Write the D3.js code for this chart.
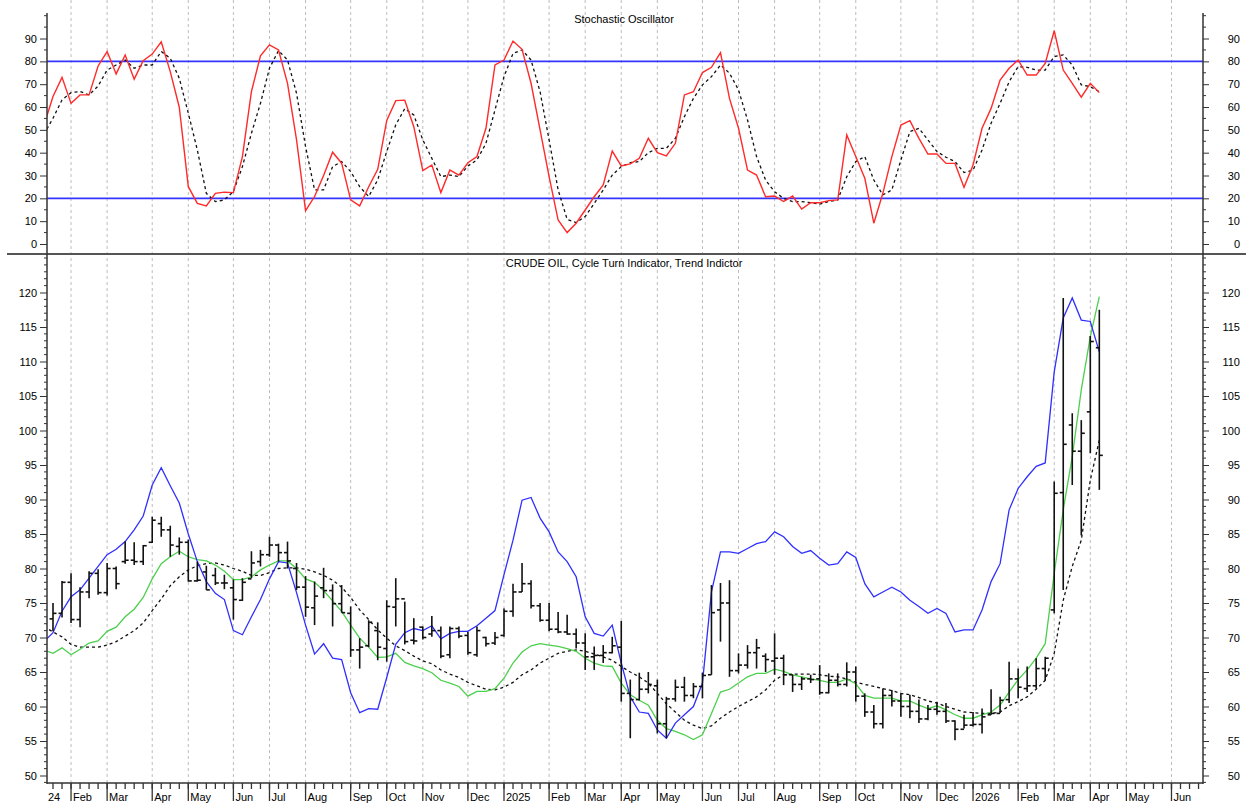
<!DOCTYPE html>
<html>
<head>
<meta charset="utf-8">
<script src="https://cdn.jsdelivr.net/npm/d3@7"></script>
<style>
body{margin:0;background:#fff}
text{font-family:"Liberation Sans",Arial,sans-serif;font-size:11px;fill:#000}
</style>
</head>
<body>
<svg id="chart" width="1246" height="804"></svg>
<script>
// weekly bars, first entry (12 Jan 2024) only carries the line values
let firstWeek = Date.UTC(2024,0,12)
let weekCount = 118

let open = [null,72.7,73.5,78.0,72.6,76.6,79.3,76.5,80.0,81.0,81.2,
81.0,83.8,86.5,85.6,83.2,83.8,78.2,79.5,79.0,77.9,
77.2,75.4,78.5,81.0,82.0,83.4,82.3,80.0,77.3,74.3,
77.2,76.8,74.9,73.5,68.2,68.8,71.0,68.4,74.4,75.6,
69.6,71.5,70.5,71.0,67.5,71.3,70.3,67.5,70.0,69.2,
70.3,73.8,76.6,77.8,74.6,72.5,71.2,70.8,70.5,69.2,
67.2,67.4,67.8,68.6,61.9,61.0,62.5,63.0,57.5,61.1,
62.8,61.6,62.9,64.6,74.0,75.0,65.2,66.0,67.8,67.3,
66.6,67.0,64.6,63.2,64.0,64.0,62.0,63.8,63.2,65.0,
61.5,59.2,57.5,61.6,60.8,60.0,59.3,58.2,59.6,59.3,
57.9,56.7,57.3,57.4,58.8,59.0,61.0,64.0,62.6,63.0,
65.5,74.0,91.0,100.8,97.0,102.7,112.0]

let high = [null,75.0,78.2,79.3,77.3,79.6,79.9,80.8,80.3,83.9,83.8,
83.4,87.5,87.5,86.2,84.5,84.2,81.0,80.4,80.1,79.1,
78.4,78.6,82.5,82.7,84.6,83.6,83.9,80.8,78.9,78.1,
80.1,77.7,77.6,74.5,69.9,72.5,72.2,75.4,78.6,75.2,
72.8,71.6,73.1,71.6,71.6,71.6,70.8,71.6,70.1,70.8,
74.2,77.8,80.8,78.3,75.0,75.0,73.7,73.3,71.3,70.6,
68.7,68.9,70.1,72.4,63.9,64.9,65.0,63.9,61.4,63.9,
64.3,63.4,64.9,77.6,77.9,78.3,67.7,68.9,69.8,67.7,
70.6,67.5,64.6,64.3,64.6,66.0,64.8,64.8,66.4,65.8,
61.9,60.2,62.6,62.4,61.9,61.7,61.0,60.2,60.7,60.5,
58.0,58.8,59.2,59.7,62.5,61.4,66.5,65.5,65.8,67.0,
67.2,92.6,119.2,102.5,101.5,113.7,117.5]

let low = [null,70.9,72.9,72.1,71.5,75.7,76.2,76.1,77.0,80.7,80.5,
80.5,83.7,84.6,81.7,82.0,78.1,78.1,76.9,77.6,77.0,
72.6,75.3,78.6,80.3,81.7,81.0,80.0,76.9,73.0,71.8,
75.7,71.6,73.6,67.2,65.5,68.6,66.7,66.5,71.6,69.0,
69.0,69.7,70.1,67.0,67.0,69.9,67.5,67.2,68.7,68.9,
70.1,73.0,76.6,74.2,72.3,70.9,70.6,70.4,68.4,65.3,
65.3,66.3,67.7,60.7,55.4,60.9,61.9,56.1,55.4,60.7,
60.7,61.2,61.2,64.6,69.4,64.3,64.8,65.5,65.5,65.0,
64.6,63.1,62.1,62.4,63.4,61.7,61.9,62.9,62.9,60.7,
58.5,56.8,56.8,60.0,58.5,58.3,57.6,58.0,58.8,57.6,
55.1,56.8,57.1,56.1,58.8,59.1,60.5,61.2,62.1,62.6,
63.8,73.5,76.9,92.1,84.8,96.7,91.4]

let close = [null,73.5,78.0,72.6,76.6,79.3,76.5,80.0,77.8,81.2,81.0,
83.3,87.0,85.6,83.4,83.8,78.2,78.3,76.9,77.9,77.9,
75.5,78.0,80.8,82.0,83.4,82.3,81.1,77.3,74.4,76.0,
76.8,74.9,73.6,68.2,68.6,72.2,68.6,74.5,75.6,69.4,
69.5,70.0,71.0,67.3,71.3,70.2,67.8,71.0,69.1,70.0,
73.8,76.6,77.8,74.6,72.5,71.2,70.8,70.5,69.2,67.2,
67.4,67.8,68.8,61.9,61.0,62.5,63.2,57.5,61.1,62.8,
61.6,62.9,64.5,73.6,75.0,65.2,66.0,67.8,68.5,66.8,
67.0,64.6,63.2,64.0,63.9,62.0,63.8,63.2,65.0,61.5,
59.2,57.5,61.6,60.8,60.0,59.3,58.2,59.6,59.3,57.9,
56.7,57.3,57.4,58.5,59.0,60.9,64.0,62.8,63.0,65.5,
67.0,90.9,98.0,97.0,99.6,112.9,96.4]

// Cycle Turn Indicator (blue)
let cycleTurn = [69.4,70.7,73.8,75.9,76.9,78.6,80.3,82.0,82.8,83.9,85.6,
87.6,92.1,94.6,92.0,89.5,85.0,81.0,78.1,76.4,75.5,
71.0,70.4,73.0,75.5,78.5,81.0,80.8,76.5,71.8,67.6,
69.1,67.0,66.8,62.0,59.1,59.7,59.6,64.2,69.0,70.7,
71.3,71.0,71.7,69.8,70.6,70.9,70.9,71.7,72.8,73.9,
79.1,84.1,89.9,90.3,87.3,85.3,82.4,81.0,78.8,73.0,
70.6,70.2,71.8,66.3,61.4,59.2,59.0,56.6,55.4,57.6,
58.8,60.0,63.4,76.6,82.4,82.4,82.2,82.9,83.6,83.9,
85.3,84.6,83.2,82.2,82.6,81.5,80.5,80.7,82.4,81.6,
77.8,75.9,76.6,77.3,76.6,75.4,74.5,73.5,74.2,73.5,
70.8,71.1,71.1,74.0,78.1,80.7,88.5,91.6,93.3,94.8,
95.3,108.5,116.3,119.2,116.0,115.8,111.4]

// Trend Indicator, fast (green) and slow (dashed)
let trendFast = [68.2,67.7,68.5,67.5,68.3,69.2,69.5,70.9,71.5,73.0,74.1,
75.8,78.5,80.7,81.7,82.5,81.7,81.3,81.1,80.5,79.6,
78.4,78.4,78.8,79.8,80.5,81.1,81.1,80.0,78.5,78.0,
76.8,75.3,73.8,71.8,69.9,68.6,67.1,67.2,67.7,66.4,
65.9,65.5,64.9,63.8,63.4,62.9,61.5,62.2,62.2,62.6,
64.1,66.3,67.9,68.8,69.1,68.9,68.7,68.4,68.0,67.0,
66.3,65.9,65.8,63.4,61.7,60.9,60.2,58.0,56.8,56.4,
55.9,55.2,55.9,59.0,62.1,62.5,63.4,64.3,64.8,64.8,
65.4,65.1,64.6,64.3,64.0,63.8,63.5,63.5,64.0,63.3,
61.6,61.2,61.2,61.2,60.8,60.8,60.2,59.7,60.1,59.5,
58.8,58.3,58.3,58.8,59.2,60.2,62.1,63.9,65.3,67.0,
69.1,79.3,88.5,96.2,105.9,113.6,119.4]

let trendSlow = [71.6,70.8,70.1,69.0,68.6,68.6,68.6,68.9,69.4,70.2,71.0,
72.1,73.9,75.6,77.5,78.8,79.8,80.4,80.7,80.8,80.5,
80.0,79.6,79.0,79.0,79.4,80.0,80.1,80.1,79.9,79.5,
79.0,78.3,77.3,75.8,74.0,72.6,71.1,69.9,68.8,68.1,
67.3,66.6,66.2,65.3,64.7,64.2,63.5,63.0,62.5,62.4,
62.8,63.5,64.6,65.3,66.3,67.0,67.7,68.0,68.2,68.0,
67.6,67.2,66.7,65.8,65.0,64.3,63.4,61.9,60.4,59.2,
58.0,57.3,56.8,57.2,58.3,59.2,60.0,60.7,61.4,62.4,
63.8,64.6,64.7,64.7,64.7,64.6,64.4,64.3,64.0,63.5,
63.2,62.9,62.6,62.3,61.9,61.7,61.3,60.8,60.5,60.0,
59.6,59.2,59.1,59.0,59.0,59.2,60.1,60.7,61.4,62.5,
63.8,67.7,75.4,80.3,84.1,92.8,98.6]

// Stochastic Oscillator
let stochK = [52.0,64.6,73.0,61.6,65.3,65.3,78.0,84.3,74.5,82.8,72.2,
80.3,83.2,88.6,75.5,59.9,25.1,17.8,16.7,22.2,22.7,
22.5,38.3,66.8,82.4,87.2,85.0,70.4,45.6,14.6,20.8,
30.0,40.2,35.4,19.3,16.7,25.1,32.7,54.1,62.8,63.0,
51.4,32.1,34.6,22.5,32.4,30.2,35.6,38.3,50.7,78.4,
80.6,88.9,85.3,70.4,50.0,29.5,10.5,5.0,9.1,14.9,
20.7,25.9,40.7,34.2,35.1,37.5,46.3,40.0,38.6,44.1,
65.3,66.7,75.1,77.4,83.8,63.8,50.7,32.4,30.2,20.7,
21.0,18.6,21.0,15.3,18.1,18.1,19.0,19.3,47.8,38.3,
28.8,9.1,22.2,38.3,52.1,54.0,46.3,39.4,39.4,35.3,
35.3,24.8,34.6,50.7,59.4,71.8,77.0,80.6,74.0,74.0,
79.1,93.4,76.2,70.4,64.3,70.4,66.3]

let stochD = [48.0,55.1,63.1,66.3,66.8,65.3,69.2,76.2,78.4,80.6,77.0,
78.4,78.4,84.3,81.4,72.6,57.3,41.2,22.2,18.6,19.3,
23.0,33.9,48.5,61.6,77.0,84.7,80.6,66.0,42.7,23.7,
23.7,33.9,36.1,31.7,25.1,20.8,28.1,40.5,52.2,59.3,
56.5,45.6,37.5,29.5,30.2,29.5,34.2,36.8,44.1,58.7,
73.3,83.5,85.0,80.6,66.7,45.6,23.7,10.8,9.4,12.0,
17.8,23.7,30.2,33.9,35.6,36.1,40.0,41.9,41.9,46.3,
55.8,63.8,69.7,73.3,78.4,74.8,67.5,54.3,38.3,28.0,
22.9,20.0,18.6,18.6,18.1,17.5,18.6,19.3,29.5,36.1,
38.3,28.0,21.5,23.7,36.8,49.2,50.7,45.6,40.5,38.0,
36.1,31.3,32.4,41.2,52.9,61.6,71.1,77.7,77.4,76.2,
76.2,82.1,82.8,78.4,69.7,68.9,66.7]

let stochLevels = [20,80]
let stochTicks = [0,10,20,30,40,50,60,70,80,90]
let priceTicks = [50,55,60,65,70,75,80,85,90,95,100,105,110,115,120]
let monthNames = ["Jan","Feb","Mar","Apr","May","Jun","Jul","Aug","Sep","Oct","Nov","Dec"]

let svg = d3.select("#chart")
let plotLeft = 47, plotRight = 1203, plotTop = 13, sepY = 254, plotBottom = 783

let weeks = d3.range(weekCount).map(k => d3.utcDay.offset(new Date(firstWeek), 7*k))

let xScale = d3.scaleUtc().domain([weeks[1], weeks[weekCount-1]]).range([53, 53 + 9.02*(weekCount-2)])
let yStoch = d3.scaleLinear().domain([0,100]).range([244, 15.7])
let yPrice = d3.scaleLinear().domain([50,120]).range([775.5, 292.5])

svg.append("rect").attr("width",1246).attr("height",804).attr("fill","#fff")

let defs = svg.append("defs")
defs.append("clipPath").attr("id","clipTop").append("rect")
  .attr("x",plotLeft).attr("y",plotTop).attr("width",plotRight-plotLeft).attr("height",sepY-plotTop)
defs.append("clipPath").attr("id","clipBottom").append("rect")
  .attr("x",plotLeft).attr("y",sepY).attr("width",plotRight-plotLeft).attr("height",plotBottom-sepY)

// month grid lines, at the first weekly bar of each month
let months = d3.utcMonths(new Date(Date.UTC(2024,1,1)), new Date(Date.UTC(2026,6,1)))
let monthWeeks = months.map(m => d3.utcFriday.ceil(m))

svg.append("g").selectAll("line")
  .data(monthWeeks)
  .enter().append("line")
  .attr("x1", d => xScale(d)).attr("x2", d => xScale(d))
  .attr("y1", 0).attr("y2", plotBottom)
  .attr("stroke","#bdbdbd").attr("stroke-dasharray","3,3")

// top panel
svg.append("g").selectAll("line")
  .data(stochLevels)
  .enter().append("line")
  .attr("x1",plotLeft).attr("x2",plotRight)
  .attr("y1", d => yStoch(d)).attr("y2", d => yStoch(d))
  .attr("stroke","#3434ff").attr("stroke-width",1.6)

let topPanel = svg.append("g").attr("clip-path","url(#clipTop)")
let stochLine = d3.line().x((d,i) => xScale(weeks[i])).y(d => yStoch(d))

topPanel.append("path").datum(stochD)
  .attr("d",stochLine).attr("fill","none")
  .attr("stroke","#111").attr("stroke-width",1.3).attr("stroke-dasharray","3,3")
topPanel.append("path").datum(stochK)
  .attr("d",stochLine).attr("fill","none")
  .attr("stroke","#ff2a2a").attr("stroke-width",1.4)

// bottom panel
let bottomPanel = svg.append("g").attr("clip-path","url(#clipBottom)")
let priceLine = d3.line().x((d,i) => xScale(weeks[i])).y(d => yPrice(d))

bottomPanel.append("path").datum(trendSlow)
  .attr("d",priceLine).attr("fill","none")
  .attr("stroke","#111").attr("stroke-width",1.3).attr("stroke-dasharray","3,3")
bottomPanel.append("path").datum(trendFast)
  .attr("d",priceLine).attr("fill","none")
  .attr("stroke","#4ccf4c").attr("stroke-width",1.3)
bottomPanel.append("path").datum(cycleTurn)
  .attr("d",priceLine).attr("fill","none")
  .attr("stroke","#2f2fff").attr("stroke-width",1.3)

let bars = bottomPanel.selectAll(".bar")
  .data(d3.range(weekCount).filter(i => open[i] != null))
  .enter().append("g")
  .attr("class","bar")
  .attr("transform", i => `translate(${xScale(weeks[i])},0)`)
  .attr("stroke","#111").attr("stroke-width",1.6)
bars.append("line").attr("x1",0).attr("x2",0)
  .attr("y1", i => yPrice(high[i])).attr("y2", i => yPrice(low[i]))
bars.append("line").attr("x1",-3.5).attr("x2",0)
  .attr("y1", i => yPrice(open[i])).attr("y2", i => yPrice(open[i]))
bars.append("line").attr("x1",0).attr("x2",3.5)
  .attr("y1", i => yPrice(close[i])).attr("y2", i => yPrice(close[i]))

// frame
svg.append("line").attr("x1",7).attr("x2",1246).attr("y1",sepY).attr("y2",sepY)
  .attr("stroke","#555").attr("stroke-width",1.8)
svg.append("line").attr("x1",plotLeft).attr("x2",plotLeft).attr("y1",plotTop).attr("y2",plotBottom+1)
  .attr("stroke","#333").attr("stroke-width",1.5)
svg.append("line").attr("x1",plotRight).attr("x2",plotRight).attr("y1",plotTop).attr("y2",plotBottom+1)
  .attr("stroke","#333").attr("stroke-width",1.5)
svg.append("line").attr("x1",plotLeft).attr("x2",plotRight).attr("y1",plotBottom).attr("y2",plotBottom)
  .attr("stroke","#333").attr("stroke-width",1.5)

// y axes
function yAxes(scale, majors, minors) {
  let l = svg.append("g").attr("transform",`translate(${plotLeft},0)`)
    .call(d3.axisLeft(scale).tickValues(majors).tickSize(7).tickPadding(3))
  let r = svg.append("g").attr("transform",`translate(${plotRight},0)`)
    .call(d3.axisRight(scale).tickValues(majors).tickSize(6).tickPadding(3))
  r.selectAll("text").attr("text-anchor","end").attr("x",37)
  ;[l,r].forEach(g => {
    g.attr("font-family",null).attr("font-size",null)
    g.select(".domain").remove()
    g.selectAll("line").attr("stroke","#333")
  })
  svg.append("g").selectAll("line").data(minors).enter().append("line")
    .attr("x1",plotLeft-3).attr("x2",plotLeft).attr("y1",d => scale(d)).attr("y2",d => scale(d))
    .attr("stroke","#333")
  svg.append("g").selectAll("line").data(minors).enter().append("line")
    .attr("x1",plotRight).attr("x2",plotRight+3).attr("y1",d => scale(d)).attr("y2",d => scale(d))
    .attr("stroke","#333")
}
yAxes(yStoch, stochTicks, [5,15,25,35,45,55,65,75,85,95,100])
yAxes(yPrice, priceTicks, d3.range(49,126).filter(v => v % 5 != 0 || v > 120))

// x axis: weekly ticks, month ticks longer with label
let weekTicks = d3.utcFriday.range(new Date(Date.UTC(2024,0,19)), new Date(Date.UTC(2026,5,30)))
svg.append("g").selectAll("line").data(weekTicks).enter().append("line")
  .attr("x1",d => xScale(d)).attr("x2",d => xScale(d))
  .attr("y1",plotBottom).attr("y2",plotBottom+6)
  .attr("stroke","#333").attr("stroke-width",1.3)
svg.append("g").selectAll("line").data(monthWeeks).enter().append("line")
  .attr("x1",d => xScale(d)).attr("x2",d => xScale(d))
  .attr("y1",plotBottom).attr("y2",plotBottom+18)
  .attr("stroke","#333").attr("stroke-width",1.3)
svg.append("g").selectAll("text").data(monthWeeks).enter().append("text")
  .attr("x",d => xScale(d) + 2).attr("y",801)
  .text(d => d.getUTCMonth() == 0 ? d.getUTCFullYear() : monthNames[d.getUTCMonth()])
svg.append("text").attr("x",48).attr("y",801).text("24")

// titles
svg.append("text").attr("x",624).attr("y",23).attr("text-anchor","middle").text("Stochastic Oscillator")
svg.append("text").attr("x",624).attr("y",267).attr("text-anchor","middle")
  .text("CRUDE OIL, Cycle Turn Indicator, Trend Indictor")
</script>
</body>
</html>
